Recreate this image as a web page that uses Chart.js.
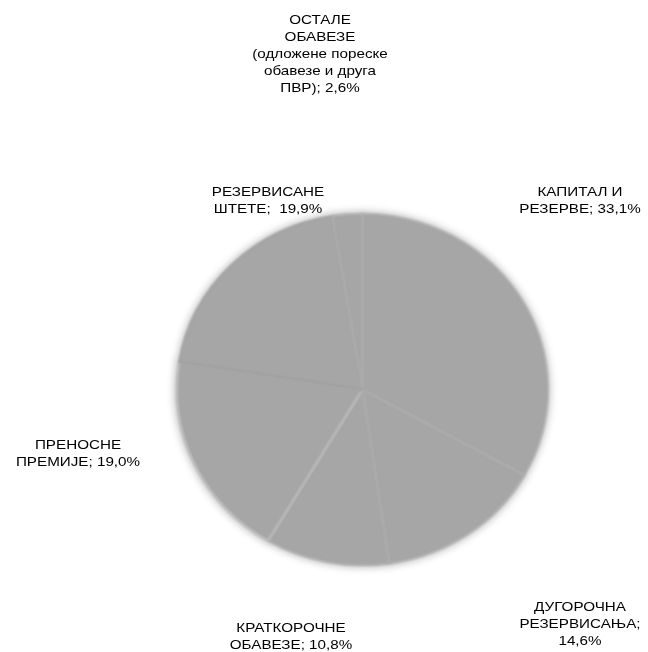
<!DOCTYPE html>
<html lang="sr">

<head>
    <meta charset="UTF-8">
    <title>Структура пасиве</title>
    <script src="https://cdn.jsdelivr.net/npm/chart.js"></script>
    <style>
        body { margin: 0; background: #fff; }
    </style>
</head>

<body>
    <canvas id="pasivaChart" width="648" height="652"></canvas>
    <script>
        // Slices, clockwise from 12 o'clock
        const categories = [
            'КАПИТАЛ И\nРЕЗЕРВЕ',
            'ДУГОРОЧНА\nРЕЗЕРВИСАЊА',
            'КРАТКОРОЧНЕ\nОБАВЕЗЕ',
            'ПРЕНОСНЕ\nПРЕМИЈЕ',
            'РЕЗЕРВИСАНЕ\nШТЕТЕ',
            'ОСТАЛЕ\nОБАВЕЗЕ\n(одложене пореске\nобавезе и друга\nПВР)'
        ];
        const shares = [33.1, 14.6, 10.8, 19.0, 19.9, 2.6];

        // Where each label block sits (center x, first line y) and what joins name and value
        const labelLayout = [
            { x: 580, y: 192, sep: ' ' },
            { x: 580, y: 607, sep: '\n' },
            { x: 291, y: 628, sep: ' ' },
            { x: 78, y: 445, sep: ' ' },
            { x: 268, y: 192, sep: '  ' },
            { x: 320, y: 20, sep: ' ' }
        ];

        // Edge strokes: a slice's stroke ends up on its leading edge
        const sliceBorders = ['#acacac', '#aeaeae', '#acacac', '#c0c0c0', '#999999', '#afafaf'];
        const sliceBorderWidths = [1, 1.2, 1.2, 1.8, 1.4, 1.2];

        function formatShare(v) {
            return v.toFixed(1).replace('.', ',') + '%';
        }

        // Slightly squashed pie with a soft rim
        const softPie = {
            id: 'softPie',
            beforeDatasetsDraw(chart) {
                const ctx = chart.ctx;
                const arc = chart.getDatasetMeta(0).data[0];
                ctx.save();
                ctx.filter = 'blur(1px)';
                ctx.shadowColor = '#a6a6a6';
                ctx.shadowBlur = 8;
                ctx.translate(arc.x, arc.y);
                ctx.scale(1, 0.947);
                ctx.translate(-arc.x, -arc.y);
            },
            afterDatasetsDraw(chart) {
                chart.ctx.restore();
            }
        };

        // Wide-set label text around the pie
        const sliceLabels = {
            id: 'sliceLabels',
            afterDraw(chart) {
                const ctx = chart.ctx;
                const stretch = 1.17;
                ctx.save();
                ctx.font = '13px "Liberation Sans", Arial, sans-serif';
                ctx.fillStyle = '#000';
                ctx.textAlign = 'center';
                ctx.textBaseline = 'middle';
                categories.forEach((name, i) => {
                    const pos = labelLayout[i];
                    const text = name + ';' + pos.sep + formatShare(shares[i]);
                    text.split('\n').forEach((line, k) => {
                        ctx.save();
                        ctx.translate(pos.x, pos.y + k * 17);
                        ctx.scale(stretch, 1);
                        ctx.fillText(line, 0, 0);
                        ctx.restore();
                    });
                });
                ctx.restore();
            }
        };

        new Chart(document.getElementById('pasivaChart').getContext('2d'), {
            type: 'pie',
            data: {
                labels: categories,
                datasets: [{
                    data: shares,
                    backgroundColor: '#a6a6a6',
                    borderColor: sliceBorders,
                    borderWidth: sliceBorderWidths
                }]
            },
            options: {
                responsive: false,
                animation: false,
                layout: {
                    padding: { left: 176, right: 99, top: 203, bottom: 76 }
                },
                plugins: {
                    legend: { display: false },
                    tooltip: { enabled: false }
                }
            },
            plugins: [softPie, sliceLabels]
        });
    </script>
</body>

</html>
